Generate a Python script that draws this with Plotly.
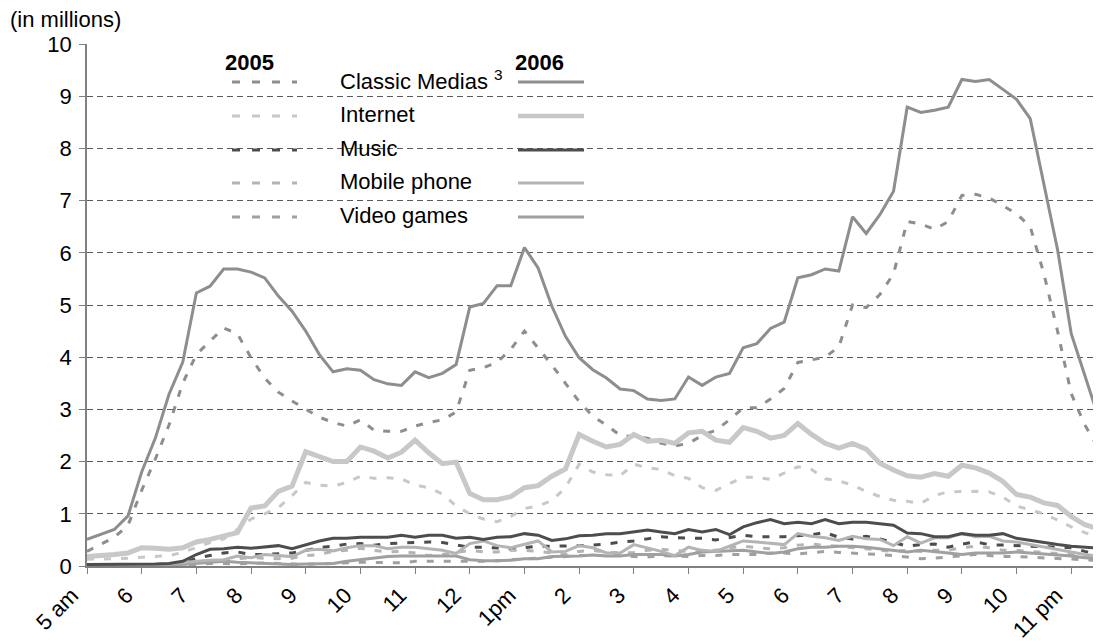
import plotly.graph_objects as go

# ---- data (millions of people, quarter-hour steps from 5:00 am to 11:30 pm) ----
time_of_day = [5 + q / 4 for q in range(75)]

classic_2006 = [0.51, 0.6, 0.7, 0.96, 1.8, 2.45, 3.29, 3.9, 5.23, 5.36, 5.69, 5.69,
                5.63, 5.52, 5.17, 4.88, 4.5, 4.05, 3.72, 3.78, 3.75, 3.57, 3.49, 3.46,
                3.72, 3.61, 3.69, 3.86, 4.96, 5.03, 5.37, 5.37, 6.1, 5.71, 4.98, 4.4,
                3.99, 3.76, 3.6, 3.39, 3.36, 3.2, 3.17, 3.2, 3.62, 3.46, 3.62, 3.69,
                4.18, 4.26, 4.55, 4.67, 5.52, 5.58, 5.69, 5.65, 6.69, 6.37, 6.73, 7.18,
                8.79, 8.69, 8.73, 8.79, 9.32, 9.28, 9.32, 9.13, 8.94, 8.57, 7.3, 6.06,
                4.45, 3.65, 2.84]
classic_2005 = [0.28, 0.42, 0.55, 0.78, 1.45, 2.05, 2.7, 3.5, 4.05, 4.31, 4.56, 4.45,
                3.99, 3.6, 3.33, 3.16, 3.0, 2.85, 2.75, 2.68, 2.8, 2.6, 2.58, 2.58,
                2.68, 2.75, 2.8, 2.95, 3.75, 3.8, 3.9, 4.15, 4.5, 4.18, 3.85, 3.5,
                3.15, 2.87, 2.7, 2.5, 2.47, 2.45, 2.35, 2.3, 2.35, 2.5, 2.6, 2.8,
                3.03, 3.03, 3.2, 3.4, 3.9, 3.95, 4.0, 4.2, 5.0, 4.95, 5.2, 5.6,
                6.6, 6.55, 6.45, 6.6, 7.1, 7.12, 7.05, 6.9, 6.75, 6.5, 5.6, 4.5,
                3.3, 2.7, 2.25]
internet_2006 = [0.18, 0.19, 0.22, 0.25, 0.35, 0.34, 0.32, 0.35, 0.46, 0.51, 0.57, 0.64,
                 1.11, 1.15, 1.43, 1.53, 2.19, 2.1, 2.0, 2.0, 2.28, 2.2, 2.07, 2.18,
                 2.41, 2.17, 1.96, 1.99, 1.39, 1.27, 1.27, 1.33, 1.5, 1.54, 1.72, 1.86,
                 2.52, 2.39, 2.28, 2.33, 2.52, 2.39, 2.41, 2.35, 2.55, 2.58, 2.41, 2.37,
                 2.65, 2.58, 2.45, 2.5, 2.73, 2.52, 2.35, 2.26, 2.35, 2.24, 1.97, 1.84,
                 1.73, 1.7, 1.77, 1.72, 1.93, 1.88, 1.78, 1.62, 1.37, 1.32, 1.21, 1.16,
                 0.95, 0.79, 0.71]
internet_2005 = [0.13, 0.13, 0.14, 0.15, 0.17, 0.18, 0.2, 0.26, 0.35, 0.45, 0.52, 0.7,
                 0.9, 1.0, 1.12, 1.35, 1.6, 1.55, 1.53, 1.6, 1.72, 1.68, 1.69, 1.67,
                 1.55, 1.5, 1.38, 1.15, 1.0, 0.9, 0.85, 0.95, 1.1, 1.15, 1.25, 1.5,
                 1.95, 1.8, 1.75, 1.73, 1.95, 1.88, 1.85, 1.73, 1.68, 1.5, 1.45, 1.58,
                 1.7, 1.7, 1.66, 1.78, 1.9, 1.85, 1.67, 1.63, 1.55, 1.43, 1.33, 1.26,
                 1.24, 1.2, 1.35, 1.42, 1.43, 1.43, 1.42, 1.32, 1.15, 1.07, 1.0, 0.88,
                 0.75, 0.64, 0.54]
music_2006 = [0.03, 0.03, 0.03, 0.03, 0.04, 0.04, 0.05, 0.09, 0.22, 0.32, 0.33, 0.36,
              0.34, 0.36, 0.39, 0.33, 0.41, 0.48, 0.53, 0.53, 0.55, 0.55, 0.55, 0.59,
              0.55, 0.59, 0.59, 0.53, 0.55, 0.51, 0.55, 0.56, 0.62, 0.59, 0.49, 0.52,
              0.58, 0.59, 0.62, 0.62, 0.65, 0.69, 0.65, 0.62, 0.7, 0.65, 0.7, 0.6,
              0.75, 0.83, 0.89, 0.81, 0.84, 0.81, 0.89, 0.81, 0.84, 0.84, 0.81, 0.78,
              0.63, 0.62, 0.56, 0.56, 0.62, 0.59, 0.59, 0.62, 0.53, 0.49, 0.44, 0.41,
              0.38, 0.36, 0.34]
music_2005 = [0.02, 0.02, 0.02, 0.02, 0.03, 0.03, 0.03, 0.05, 0.15, 0.2, 0.25, 0.27,
              0.22, 0.22, 0.24, 0.25, 0.3, 0.35, 0.38, 0.42, 0.43, 0.4, 0.43, 0.44,
              0.45, 0.46, 0.45, 0.41, 0.36, 0.36, 0.35, 0.33, 0.35, 0.38, 0.38, 0.38,
              0.39, 0.4, 0.42, 0.46, 0.48, 0.52, 0.56, 0.54, 0.53, 0.53, 0.5, 0.55,
              0.59, 0.56, 0.56, 0.56, 0.58, 0.6, 0.64, 0.55, 0.52, 0.57, 0.52, 0.45,
              0.38, 0.41, 0.42, 0.36, 0.42, 0.46, 0.41, 0.4, 0.39, 0.39, 0.38, 0.37,
              0.35, 0.28, 0.22]
mobile_2006 = [0.02, 0.02, 0.02, 0.02, 0.03, 0.03, 0.04, 0.07, 0.09, 0.11, 0.12, 0.19,
               0.16, 0.22, 0.2, 0.18, 0.3, 0.32, 0.29, 0.35, 0.39, 0.39, 0.33, 0.36,
               0.36, 0.33, 0.3, 0.24, 0.43, 0.48, 0.39, 0.35, 0.41, 0.48, 0.27, 0.28,
               0.39, 0.35, 0.25, 0.25, 0.41, 0.35, 0.28, 0.2, 0.36, 0.3, 0.28, 0.38,
               0.48, 0.46, 0.43, 0.41, 0.62, 0.57, 0.54, 0.49, 0.57, 0.52, 0.51, 0.39,
               0.56, 0.44, 0.54, 0.54, 0.62, 0.56, 0.57, 0.48, 0.46, 0.41, 0.36, 0.32,
               0.27, 0.22, 0.19]
mobile_2005 = [0.01, 0.01, 0.01, 0.02, 0.02, 0.02, 0.03, 0.04, 0.06, 0.08, 0.1, 0.14,
               0.16, 0.15, 0.14, 0.15, 0.2, 0.22, 0.28, 0.3, 0.34, 0.3, 0.27, 0.28,
               0.25, 0.2, 0.22, 0.26, 0.3, 0.27, 0.27, 0.3, 0.3, 0.28, 0.25, 0.22,
               0.28, 0.3, 0.26, 0.25, 0.26, 0.3, 0.32, 0.3, 0.28, 0.3, 0.3, 0.35,
               0.38, 0.35, 0.33, 0.35, 0.4, 0.42, 0.4, 0.38, 0.35, 0.33, 0.3, 0.28,
               0.3, 0.28, 0.3, 0.3, 0.35, 0.38, 0.35, 0.3, 0.3, 0.28, 0.25, 0.24,
               0.22, 0.18, 0.15]
video_2006 = [0.01, 0.01, 0.01, 0.01, 0.02, 0.02, 0.02, 0.03, 0.05, 0.07, 0.09, 0.07,
              0.06, 0.05, 0.03, 0.03, 0.04, 0.04, 0.05, 0.09, 0.12, 0.14, 0.18, 0.19,
              0.19, 0.19, 0.19, 0.19, 0.12, 0.1, 0.1, 0.11, 0.14, 0.14, 0.18, 0.18,
              0.19, 0.21, 0.19, 0.19, 0.22, 0.22, 0.22, 0.19, 0.22, 0.27, 0.28, 0.3,
              0.3, 0.27, 0.24, 0.27, 0.33, 0.36, 0.36, 0.38, 0.38, 0.36, 0.33, 0.3,
              0.27, 0.3, 0.28, 0.25, 0.22, 0.25, 0.25, 0.25, 0.27, 0.25, 0.24, 0.22,
              0.19, 0.16, 0.14]
video_2005 = [0.01, 0.01, 0.01, 0.01, 0.01, 0.01, 0.02, 0.02, 0.03, 0.05, 0.05, 0.04,
              0.05, 0.06, 0.05, 0.04, 0.03, 0.04, 0.05, 0.07, 0.07, 0.07, 0.06, 0.06,
              0.09, 0.09, 0.09, 0.09, 0.08, 0.09, 0.1, 0.12, 0.14, 0.15, 0.17, 0.18,
              0.2, 0.2, 0.2, 0.2, 0.18, 0.17, 0.2, 0.19, 0.18, 0.2, 0.2, 0.22,
              0.22, 0.22, 0.25, 0.25, 0.23, 0.26, 0.28, 0.26, 0.25, 0.24, 0.22, 0.2,
              0.17, 0.14, 0.15, 0.17, 0.2, 0.22, 0.2, 0.18, 0.18, 0.17, 0.15, 0.14,
              0.13, 0.12, 0.1]

tick_hours = list(range(5, 24))
tick_labels = ["5 am", "6", "7", "8", "9", "10", "11", "12", "1pm", "2", "3", "4",
               "5", "6", "7", "8", "9", "10", "11 pm"]
y_ticks = list(range(0, 11))

series_names = ["Classic Medias <sup>3</sup>", "Internet", "Music", "Mobile phone", "Video games"]

# ---- styles ----
FONT = "Liberation Sans, Arial, sans-serif"
C_CLASSIC = "#8e8e8e"
C_INTERNET = "#c8c8c8"
C_MUSIC = "#4d4d4d"
C_MOBILE = "#b4b4b4"
C_VIDEO = "#a0a0a0"
DASH = "7px,10px"

styles = [
    (classic_2005, classic_2006, C_CLASSIC, 3, 3),
    (internet_2005, internet_2006, C_INTERNET, 3, 5),
    (music_2005, music_2006, C_MUSIC, 3, 3),
    (mobile_2005, mobile_2006, C_MOBILE, 3, 3),
    (video_2005, video_2006, C_VIDEO, 3, 3),
]

fig = go.Figure()
for name, (v05, v06, col, w05, w06) in zip(series_names, styles):
    fig.add_trace(go.Scatter(x=time_of_day, y=v05, mode="lines", name=name + " 2005",
                             line=dict(color=col, width=w05, dash=DASH),
                             showlegend=False, hoverinfo="skip"))
for name, (v05, v06, col, w05, w06) in reversed(list(zip(series_names, styles))):
    fig.add_trace(go.Scatter(x=time_of_day, y=v06, mode="lines", name=name + " 2006",
                             line=dict(color=col, width=w06),
                             showlegend=False, hoverinfo="skip"))

# ---- geometry (page pixels; the html body adds an 8px offset on both axes) ----
OFF = 8
FIG_W, FIG_H = 1101 - OFF, 643 - OFF   # keep the figure inside the window (no scrollbars)
L, R, T, B = 87, 1101, 44, 566
W, H = R - L, B - T
def px(x):
    return (x - L) / W
def py(y):
    return (B - y) / H

shapes = []
annotations = []
shapes.append(dict(type="rect", xref="paper", yref="paper", layer="between",
                   x0=px(217), x1=px(793), y0=py(238), y1=py(52),
                   fillcolor="white", line=dict(width=0)))

row_y = [82, 116, 150, 183, 217]
for (v05, v06, col, w05, w06), name, ry in zip(styles, series_names, row_y):
    shapes.append(dict(type="line", xref="paper", yref="paper", x0=px(232), x1=px(297),
                       y0=py(ry), y1=py(ry), line=dict(color=col, width=3, dash="8px,12px")))
    shapes.append(dict(type="line", xref="paper", yref="paper", x0=px(518), x1=px(584),
                       y0=py(ry), y1=py(ry), line=dict(color=col, width=w06 if w06 < 5 else 4.5)))
    annotations.append(dict(text=name, xref="paper", yref="paper", x=px(338), y=py(ry - 2),
                            xanchor="left", yanchor="middle", showarrow=False,
                            font=dict(family=FONT, size=22, color="black")))

annotations.append(dict(text="<b>2005</b>", xref="paper", yref="paper", x=px(223), y=py(63),
                        xanchor="left", yanchor="middle", showarrow=False,
                        font=dict(family=FONT, size=22, color="black")))
annotations.append(dict(text="<b>2006</b>", xref="paper", yref="paper", x=px(513), y=py(63),
                        xanchor="left", yanchor="middle", showarrow=False,
                        font=dict(family=FONT, size=22, color="black")))
annotations.append(dict(text="(in millions)", xref="paper", yref="paper", x=px(OFF), y=py(19),
                        xanchor="left", yanchor="middle", showarrow=False,
                        font=dict(family=FONT, size=22, color="black")))

fig.update_layout(
    width=FIG_W, height=FIG_H, autosize=False,
    margin=dict(l=L - OFF, r=FIG_W - (R - OFF), t=T - OFF, b=FIG_H - (B - OFF), pad=0),
    paper_bgcolor="white", plot_bgcolor="white",
    font=dict(family=FONT, size=22, color="black"),
    shapes=shapes, annotations=annotations,
    showlegend=False,
)
fig.update_xaxes(range=[5, 5 + W / 54.68], tickmode="array", tickvals=tick_hours,
                 ticktext=tick_labels, tickangle=-45, ticks="outside", ticklen=6,
                 tickcolor="#808080", showline=True, linecolor="#808080", linewidth=1.5,
                 showgrid=False, zeroline=False, automargin=False,
                 ticklabelshift=-15,
                 tickfont=dict(family=FONT, size=22))
fig.update_yaxes(range=[0, 10], tickmode="array", tickvals=y_ticks, ticks="outside",
                 ticklen=6, tickcolor="#808080", showline=True, linecolor="#808080",
                 linewidth=1.5, showgrid=True, gridcolor="#5a5a5a", gridwidth=1,
                 griddash="6px,4px", zeroline=False, automargin=False,
                 ticklabelstandoff=3, tickfont=dict(family=FONT, size=22))

fig.write_html("out.html")
